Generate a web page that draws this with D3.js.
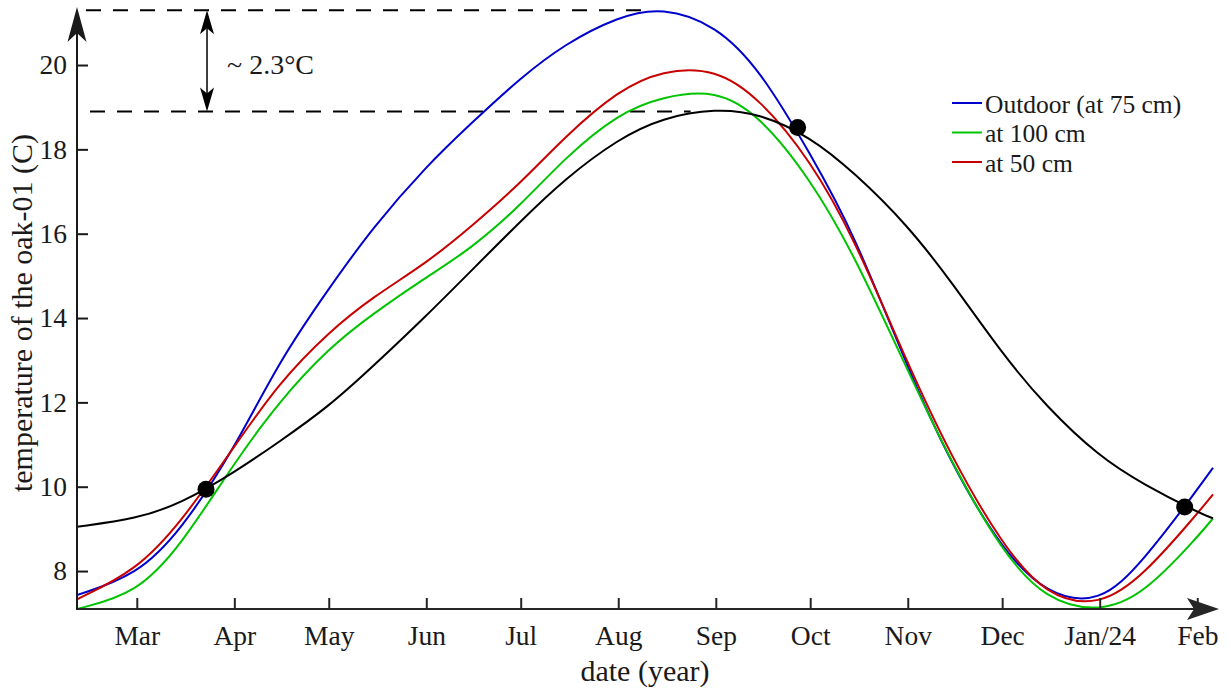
<!DOCTYPE html>
<head>
  <title>temperature of the oak-01</title>
  <script src="https://cdn.jsdelivr.net/npm/d3@7"></script>
  <style>
    body { margin: 0; background: #fff; }
    text { font-family: "Liberation Serif", "Times New Roman", serif; fill: #1a1a1a; }
  </style>
</head>

<body>
  <script>

    var parseDate = d3.timeParse("%Y-%m-%d");

    // sample dates
    var dates = ["2023-02-10", "2023-03-01", "2023-03-15", "2023-04-01", "2023-04-15",
      "2023-05-01", "2023-05-15", "2023-06-01", "2023-06-15", "2023-07-01", "2023-07-15",
      "2023-08-01", "2023-08-15", "2023-09-01", "2023-09-15", "2023-10-01", "2023-10-15",
      "2023-11-01", "2023-11-15", "2023-12-01", "2023-12-15", "2024-01-01", "2024-01-15",
      "2024-02-01", "2024-02-06"];

    var oak = [9.05, 9.24, 9.6, 10.34, 11.05, 11.9, 12.85, 14.05, 15.1, 16.3, 17.3,
      18.25, 18.75, 18.97, 18.85, 18.3, 17.45, 16.2, 14.85, 13.15, 11.9, 10.7, 10.05, 9.4, 9.25];
    var outdoor = [7.43, 7.9, 8.95, 10.9, 12.95, 14.7, 16.15, 17.6, 18.6, 19.7, 20.5,
      21.15, 21.38, 20.95, 19.9, 17.9, 16.0, 12.8, 10.5, 8.5, 7.45, 7.2, 8.25, 9.93, 10.45];
    var at100 = [7.1, 7.47, 8.6, 10.57, 12.0, 13.29, 14.1, 14.97, 15.63, 16.67, 17.8,
      18.85, 19.25, 19.42, 18.8, 17.3, 15.5, 12.75, 10.55, 8.45, 7.3, 7.02, 7.45, 8.8, 9.25];
    var at50 = [7.33, 8.02, 9.15, 10.95, 12.45, 13.67, 14.5, 15.3, 16.15, 17.2, 18.3,
      19.4, 19.88, 19.92, 19.2, 17.75, 15.9, 12.9, 10.68, 8.62, 7.4, 7.15, 7.9, 9.36, 9.82];

    // crossing points
    var dotDates = ["2023-03-23", "2023-09-27", "2024-01-28"];
    var dotValues = [9.94, 18.52, 9.52];

    // peaks used for the ~2.3 annotation
    var peakDates = ["2023-08-11", "2023-08-24"];
    var peakValues = [21.3, 18.9];

    var tickDates = ["2023-03-01", "2023-04-01", "2023-05-01", "2023-06-01", "2023-07-01",
      "2023-08-01", "2023-09-01", "2023-10-01", "2023-11-01", "2023-12-01", "2024-01-01", "2024-02-01"];
    var tickLabels = ["Mar", "Apr", "May", "Jun", "Jul", "Aug", "Sep", "Oct", "Nov", "Dec", "Jan/24", "Feb"];
    var yTicks = [8, 10, 12, 14, 16, 18, 20];

    var legendNames = ["Outdoor (at 75 cm)", "at 100 cm", "at 50 cm"];
    var legendColors = ["#0000cd", "#00c400", "#c80000"];

    var w = 1231;
    var h = 689;
    var left = 77, bottom = 609;

    var x = d3.scaleTime()
        .domain([parseDate(dates[0]), parseDate(dates[dates.length - 1])])
        .range([left, 1213]);

    var y = d3.scaleLinear()
        .domain([7.1, 21.3])
        .range([bottom, 10.2]);

    var svg = d3.select("body").append("svg")
        .attr("width", w)
        .attr("height", h);

    svg.append("clipPath").attr("id", "clip")
      .append("rect")
        .attr("x", left).attr("y", 0)
        .attr("width", w - left).attr("height", bottom - 0);

    // dashed guides
    var dashStart = [86, 90];
    peakValues.forEach(function(v, i) {
      svg.append("line")
          .attr("x1", dashStart[i])
          .attr("x2", x(parseDate(peakDates[i])))
          .attr("y1", y(v))
          .attr("y2", y(v))
          .attr("stroke", "#000")
          .attr("stroke-width", 2)
          .attr("stroke-dasharray", "15,12");
    });

    var line = d3.line()
        .x(function(d) { return x(d.date); })
        .y(function(d) { return y(d.value); })
        .curve(d3.curveBasis);

    function toSeries(vals) {
      return vals.map(function(v, i) { return {date: parseDate(dates[i]), value: v}; });
    }

    var series = [
      {values: outdoor, color: legendColors[0]},
      {values: at100, color: legendColors[1]},
      {values: at50, color: legendColors[2]},
      {values: oak, color: "#000"}
    ];

    svg.append("g")
        .attr("clip-path", "url(#clip)")
      .selectAll("path")
        .data(series)
        .enter()
        .append("path")
        .attr("d", function(d) { return line(toSeries(d.values)); })
        .attr("fill", "none")
        .attr("stroke", function(d) { return d.color; })
        .attr("stroke-width", 2);

    svg.selectAll("circle.dot")
        .data(dotDates)
        .enter()
        .append("circle")
        .attr("class", "dot")
        .attr("cx", function(d) { return x(parseDate(d)); })
        .attr("cy", function(d, i) { return y(dotValues[i]); })
        .attr("r", 8.5)
        .attr("fill", "#000");

    // x axis
    var xAxis = d3.axisBottom(x)
        .tickValues(tickDates.map(parseDate))
        .tickFormat(function(d, i) { return tickLabels[i]; })
        .tickSizeInner(-11)
        .tickSizeOuter(0)
        .tickPadding(16);

    var gx = svg.append("g")
        .attr("transform", "translate(0," + bottom + ")")
        .call(xAxis);
    gx.select(".domain").remove();
    gx.selectAll("line").attr("stroke", "#262626").attr("stroke-width", 2);
    gx.selectAll("text").style("font-size", "27.5px").attr("fill", "#1a1a1a");

    svg.append("line")
        .attr("x1", left - 1).attr("x2", 1200)
        .attr("y1", bottom).attr("y2", bottom)
        .attr("stroke", "#262626").attr("stroke-width", 2);
    svg.append("path")
        .attr("d", "M1219," + bottom + " L1187," + (bottom - 11) + " L1194," + bottom + " L1187," + (bottom + 11) + " Z")
        .attr("fill", "#262626");

    // y axis
    var yAxis = d3.axisLeft(y)
        .tickValues(yTicks)
        .tickSizeInner(-11)
        .tickSizeOuter(0)
        .tickPadding(10);

    var gy = svg.append("g")
        .attr("transform", "translate(" + left + ",0)")
        .call(yAxis);
    gy.select(".domain").remove();
    gy.selectAll("line").attr("stroke", "#1a1a1a").attr("stroke-width", 2);
    gy.selectAll("text").style("font-size", "27.5px").attr("fill", "#1a1a1a");

    svg.append("line")
        .attr("x1", left).attr("x2", left)
        .attr("y1", bottom + 1).attr("y2", 30)
        .attr("stroke", "#1a1a1a").attr("stroke-width", 2);
    svg.append("path")
        .attr("d", "M" + left + ",7 L" + (left + 9.5) + ",42 L" + left + ",33 L" + (left - 9.5) + ",42 Z")
        .attr("fill", "#1a1a1a");

    // double arrow between the two peaks
    var ax = x(parseDate(dotDates[0])) + 1;
    var yTop = y(peakValues[0]), yBot = y(peakValues[1]);
    svg.append("line")
        .attr("x1", ax).attr("x2", ax)
        .attr("y1", yTop + 10).attr("y2", yBot - 10)
        .attr("stroke", "#000").attr("stroke-width", 1.5);
    svg.append("path")
        .attr("d", "M" + ax + "," + yTop + " L" + (ax + 7) + "," + (yTop + 24) + " L" + ax + "," + (yTop + 18) + " L" + (ax - 7) + "," + (yTop + 24) + " Z")
        .attr("fill", "#000");
    svg.append("path")
        .attr("d", "M" + ax + "," + yBot + " L" + (ax + 7) + "," + (yBot - 24) + " L" + ax + "," + (yBot - 18) + " L" + (ax - 7) + "," + (yBot - 24) + " Z")
        .attr("fill", "#000");
    svg.append("text")
        .attr("x", ax + 20)
        .attr("y", 74)
        .style("font-size", "28px")
        .text("~ 2.3°C");

    // axis titles
    svg.append("text")
        .attr("x", 645)
        .attr("y", 681)
        .attr("text-anchor", "middle")
        .style("font-size", "30px")
        .text("date (year)");

    svg.append("text")
        .attr("transform", "translate(32,313) rotate(-90)")
        .attr("text-anchor", "middle")
        .style("font-size", "30px")
        .text("temperature of the oak-01 (C)");

    // legend
    var legend = svg.selectAll("g.legend")
        .data(legendNames)
        .enter()
        .append("g")
        .attr("class", "legend")
        .attr("transform", function(d, i) { return "translate(952," + (103 + i * 29.5) + ")"; });
    legend.append("line")
        .attr("x1", 0).attr("x2", 30)
        .attr("stroke", function(d, i) { return legendColors[i]; })
        .attr("stroke-width", 2);
    legend.append("text")
        .attr("x", 33)
        .attr("y", 9.5)
        .style("font-size", "25.5px")
        .text(function(d) { return d; });

  </script>
</body>
